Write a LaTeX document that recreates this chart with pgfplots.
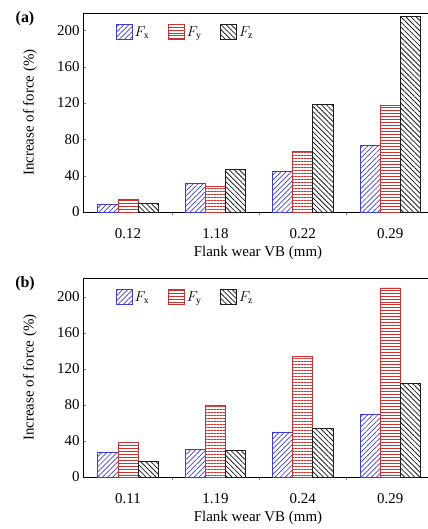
\documentclass[border=0pt]{standalone}
\usepackage{fontspec}
\setmainfont{Liberation Serif}
\usepackage{pgfplots}
\pgfplotsset{compat=1.18}
\usetikzlibrary{patterns.meta}
\definecolor{FxBlue}{RGB}{60,60,220}
\definecolor{FyRed}{RGB}{205,50,50}
\definecolor{FzBlack}{RGB}{30,30,30}

\pgfplotsset{
  panel/.style={
    scale only axis,
    width=350bp, height=199bp,
    xmin=-0.515, xmax=3.49, ymin=0,
    axis line style={line width=1pt},
    xtick={0,1,2,3},
    major x tick style={draw=none},
    minor xtick={0.5,1.5,2.5},
    minor tick length=3.5pt,
    ytick={0,40,80,120,160,200},
    major tick length=3.5pt,
    tick align=inside,
    ytick pos=left, xtick pos=bottom,
    /pgf/number format/assume math mode=true,
    tick label style={font=\fontsize{15}{17}\selectfont},
    xticklabel style={anchor=center, yshift=-18bp},
    label style={font=\fontsize{15}{17}\selectfont},
    xlabel={Flank wear VB (mm)},
    ylabel={Increase of force (\%)},
    xlabel style={at={(axis description cs:0.5,0)}, anchor=center, yshift=-41bp},
    ylabel style={at={(axis description cs:0,0.5)}, anchor=center, yshift=53bp},
    ybar=0pt, bar width=0.23,
    legend style={draw=none, fill=none, at={(0.085,0.955)}, anchor=north west,
      legend columns=3, font=\fontsize{14}{16}\selectfont,
      /tikz/every even column/.append style={column sep=17pt}},
    legend image code/.code={\draw[#1] (0bp,-7bp) rectangle (16bp,8bp);},
  },
  fx/.style={draw=FxBlue, line width=0.8pt, bar shift=-0.23,
    pattern={Lines[angle=45,distance=3.6pt,line width=0.7pt]}, pattern color=FxBlue},
  fy/.style={draw=FyRed, line width=0.8pt, bar shift=0,
    pattern={Lines[angle=0,distance=3pt,line width=0.7pt]}, pattern color=FyRed},
  fz/.style={draw=FzBlack, line width=0.8pt, bar shift=0.23,
    pattern={Lines[angle=-45,distance=3.6pt,line width=0.8pt]}, pattern color=FzBlack},
}

\begin{document}
\begin{tikzpicture}
\useasboundingbox (0,0) rectangle (428bp,-529bp);

\begin{axis}[panel, at={(83bp,-212bp)}, anchor=south west, ymax=219,
  xticklabels={0.12,1.18,0.22,0.29}]
\addplot[fx] coordinates {(0,8) (1,31) (2,45) (3,73)};
\addplot[fy] coordinates {(0,14) (1,28) (2,67) (3,117)};
\addplot[fz] coordinates {(0,10) (1,47) (2,118) (3,215)};
\legend{$F_{\mathrm{x}}$,$F_{\mathrm{y}}$,$F_{\mathrm{z}}$}
\end{axis}
\node[font=\bfseries\fontsize{16}{18}\selectfont, anchor=center] at (25bp,-19bp) {(a)};

\begin{axis}[panel, at={(83bp,-477bp)}, anchor=south west, ymax=221,
  xticklabels={0.11,1.19,0.24,0.29}]
\addplot[fx] coordinates {(0,27) (1,31) (2,50) (3,70)};
\addplot[fy] coordinates {(0,38) (1,80) (2,134) (3,210)};
\addplot[fz] coordinates {(0,17) (1,29) (2,54) (3,104)};
\legend{$F_{\mathrm{x}}$,$F_{\mathrm{y}}$,$F_{\mathrm{z}}$}
\end{axis}
\node[font=\bfseries\fontsize{16}{18}\selectfont, anchor=center] at (25bp,-284bp) {(b)};
\end{tikzpicture}
\end{document}
